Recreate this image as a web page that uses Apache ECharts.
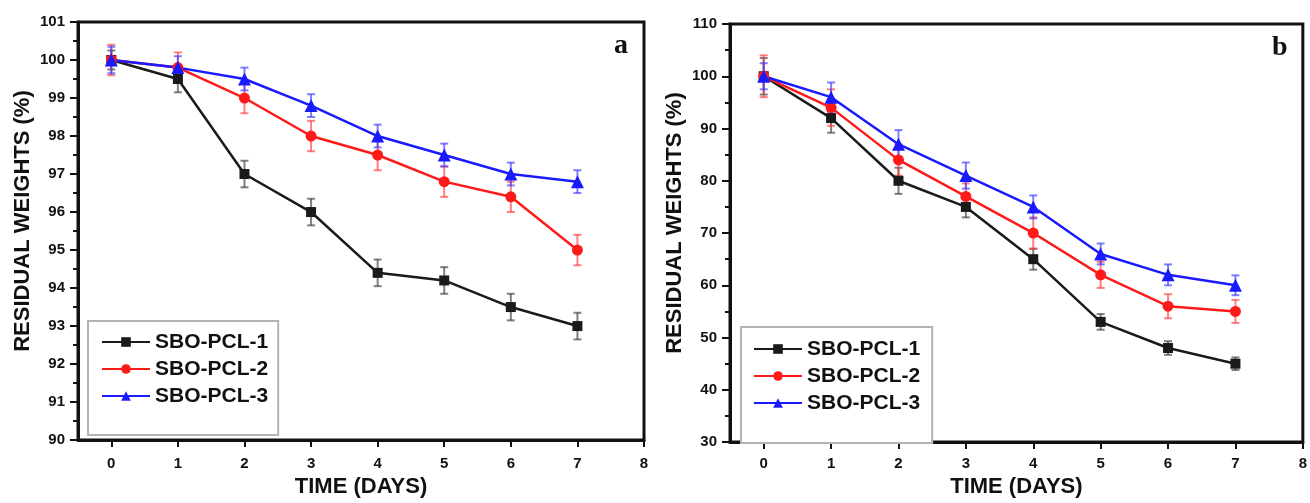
<!DOCTYPE html>
<html>
<head>
<meta charset="utf-8">
<script src="https://cdn.jsdelivr.net/npm/echarts@6/dist/echarts.min.js"></script>
<style>
  html, body { margin: 0; padding: 0; background: #fff; }
  #chart { width: 1310px; height: 503px; }
</style>
</head>
<body>
<div id="chart"></div>
<script>
var myChart = echarts.init(document.getElementById('chart'));

// 数据
var days = [0, 1, 2, 3, 4, 5, 6, 7];
var dayTicks = [0, 1, 2, 3, 4, 5, 6, 7, 8];
var seriesNames = ['SBO-PCL-1', 'SBO-PCL-2', 'SBO-PCL-3'];

// panel a
var a1 = [100, 99.5, 97, 96, 94.4, 94.2, 93.5, 93];
var a2 = [100, 99.8, 99, 98, 97.5, 96.8, 96.4, 95];
var a3 = [100, 99.8, 99.5, 98.8, 98, 97.5, 97, 96.8];
var errA1 = [0.25, 0.35, 0.35, 0.35, 0.35, 0.35, 0.35, 0.35];
var errA2 = [0.4, 0.4, 0.4, 0.4, 0.4, 0.4, 0.4, 0.4];
var errA3 = [0.35, 0.3, 0.3, 0.3, 0.3, 0.3, 0.3, 0.3];

// panel b
var b1 = [100, 92, 80, 75, 65, 53, 48, 45];
var b2 = [100, 94, 84, 77, 70, 62, 56, 55];
var b3 = [100, 96, 87, 81, 75, 66, 62, 60];
var errB1 = [3.5, 2.8, 2.5, 2.0, 2.0, 1.5, 1.3, 1.2];
var errB2 = [4.0, 3.5, 3.0, 2.5, 3.0, 2.5, 2.3, 2.2];
var errB3 = [2.5, 2.8, 2.7, 2.5, 2.2, 2.0, 2.0, 1.9];

var lineColors = ['#1a1a1a', '#ff1a1a', '#1a1aff'];
var errColors = ['rgba(60,60,60,0.65)', 'rgba(255,60,60,0.65)', 'rgba(60,60,255,0.65)'];
var symbols = ['rect', 'circle', 'triangle'];
var symbolSizes = [10, 11, 13];
var font = '"Liberation Sans", Arial, sans-serif';

function pairs(vals) {
    return days.map(function (d, i) { return [d, vals[i]]; });
}
function errData(vals, errs) {
    return days.map(function (d, i) { return [d, vals[i] - errs[i], vals[i] + errs[i]]; });
}
// 误差棒
function renderBar(params, api) {
    var x = api.value(0);
    var lo = api.coord([x, api.value(1)]);
    var hi = api.coord([x, api.value(2)]);
    var w = 4;
    var style = { stroke: api.visual('color'), lineWidth: 2 };
    return {
        type: 'group',
        children: [
            { type: 'line', shape: { x1: lo[0], y1: lo[1], x2: hi[0], y2: hi[1] }, style: style },
            { type: 'line', shape: { x1: lo[0] - w, y1: lo[1], x2: lo[0] + w, y2: lo[1] }, style: style },
            { type: 'line', shape: { x1: hi[0] - w, y1: hi[1], x2: hi[0] + w, y2: hi[1] }, style: style }
        ]
    };
}

function xAxisOf(idx) {
    return {
        type: 'value', gridIndex: idx, min: -0.5, max: 8,
        name: 'TIME (DAYS)', nameLocation: 'middle', nameGap: idx === 0 ? 31 : 32,
        nameTextStyle: { fontFamily: font, fontWeight: 'bold', fontSize: 22, color: '#111' },
        axisLine: { show: true, onZero: false, lineStyle: { color: '#111', width: 3 } },
        axisTick: { show: true, customValues: dayTicks, length: 7, lineStyle: { color: '#111', width: 2 } },
        axisLabel: { customValues: dayTicks, margin: idx === 0 ? 16 : 14, fontFamily: font, fontWeight: 'bold', fontSize: 15, color: '#111' },
        splitLine: { show: false }
    };
}
function yAxisOf(idx, min, max, step) {
    return {
        type: 'value', gridIndex: idx, min: min, max: max, interval: step,
        name: 'RESIDUAL WEIGHTS (%)', nameLocation: 'middle', nameGap: 44,
        nameTextStyle: { fontFamily: font, fontWeight: 'bold', fontSize: 22, color: '#111', padding: [0, 0, 0, 20] },
        axisLine: { show: true, onZero: false, lineStyle: { color: '#111', width: 3 } },
        axisTick: { show: true, length: 8, lineStyle: { color: '#111', width: 2 } },
        minorTick: { show: true, splitNumber: 2, length: 5, lineStyle: { color: '#111', width: 2 } },
        axisLabel: { margin: 13, fontFamily: font, fontWeight: 'bold', fontSize: 15, color: '#111' },
        splitLine: { show: false }
    };
}

var panels = [[a1, a2, a3], [b1, b2, b3]];
var panelErrs = [[errA1, errA2, errA3], [errB1, errB2, errB3]];
var series = [];
for (var p = 0; p < 2; ++p) {
    for (var s = 0; s < 3; ++s) {
        series.push({
            name: 'err' + p + s,
            type: 'custom',
            xAxisIndex: p, yAxisIndex: p,
            renderItem: renderBar,
            itemStyle: { color: errColors[s] },
            encode: { x: 0, y: [1, 2] },
            data: errData(panels[p][s], panelErrs[p][s]),
            z: 1,
            silent: true
        });
    }
}
for (var p = 0; p < 2; ++p) {
    for (var s = 0; s < 3; ++s) {
        series.push({
            name: seriesNames[s],
            type: 'line',
            xAxisIndex: p, yAxisIndex: p,
            data: pairs(panels[p][s]),
            symbol: symbols[s],
            symbolSize: symbolSizes[s],
            color: lineColors[s],
            lineStyle: { width: 2.5, color: lineColors[s] },
            itemStyle: { color: lineColors[s] },
            z: 3
        });
    }
}

function legendOf(left, top, pad) {
    return {
        data: seriesNames, orient: 'vertical', left: left, top: top,
        padding: pad, itemWidth: 48, itemHeight: 12, itemGap: 5,
        backgroundColor: '#fff', borderColor: '#b4b4b4', borderWidth: 2,
        textStyle: { fontFamily: font, fontWeight: 'bold', fontSize: 21, lineHeight: 22, color: '#111' }
    };
}

myChart.setOption({
    backgroundColor: '#fff',
    animation: false,
    grid: [
        { left: 78, top: 22, width: 566, height: 419, show: true, borderColor: '#111', borderWidth: 3, backgroundColor: '#fff' },
        { left: 730, top: 24, width: 575, height: 428, show: true, borderColor: '#111', borderWidth: 3, backgroundColor: '#fff' }
    ],
    xAxis: [xAxisOf(0), xAxisOf(1)],
    yAxis: [yAxisOf(0, 90, 101, 1), yAxisOf(1, 30, 110, 10)],
    legend: [
        legendOf(88, 321, [10, 10, 28, 13]),
        legendOf(741, 327, [11, 12, 29, 12])
    ],
    graphic: [
        { type: 'text', left: 614, top: 32, style: { text: 'a', font: 'bold 28px "Liberation Serif", serif', fill: '#111' } },
        { type: 'text', left: 1272, top: 34, style: { text: 'b', font: 'bold 28px "Liberation Serif", serif', fill: '#111' } }
    ],
    series: series
});
</script>
</body>
</html>
